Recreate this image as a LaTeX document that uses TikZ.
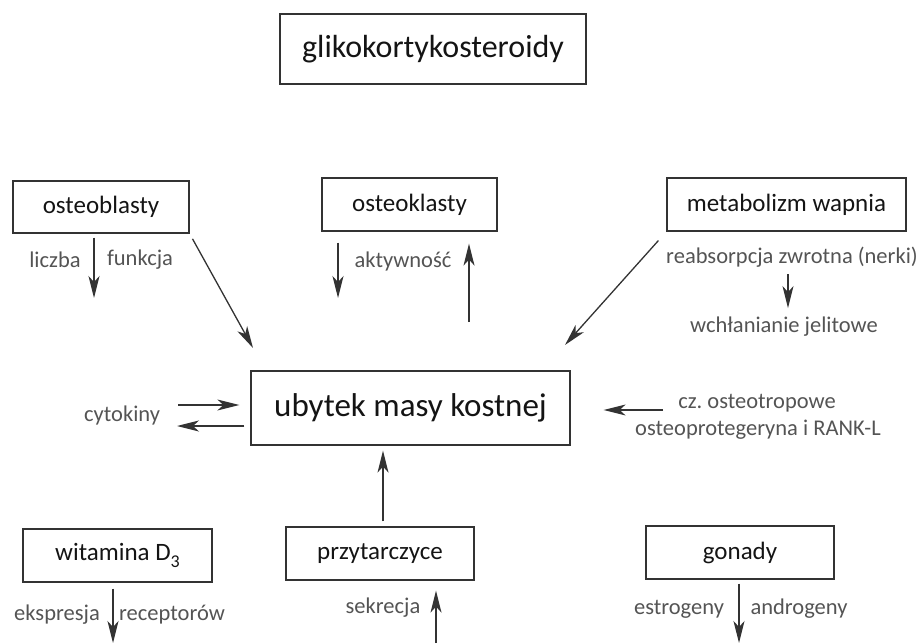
\documentclass[tikz,border=0pt]{standalone}
\usepackage{fontspec}
\setmainfont{Carlito}
\usetikzlibrary{arrows.meta}

\definecolor{linec}{gray}{0.2}
\definecolor{boxc}{gray}{0.08}
\definecolor{labc}{gray}{0.33}

\tikzset{
  box/.style={draw=linec, line width=1.2pt, text=boxc, inner sep=0pt,
    minimum height=53pt, font=\fontsize{25}{30}\selectfont},
  lab/.style={text=labc, inner sep=0pt, font=\fontsize{22.5}{27}\selectfont},
  arr/.style={draw=linec, line width=1.3pt,
    -{Stealth[length=22pt,width=11pt,inset=6pt]}},
}

\begin{document}
\frenchspacing
\begin{tikzpicture}[x=1pt,y=-1pt]
    \useasboundingbox (0,0) rectangle (923,644);

    % boxes
    \node[box, minimum width=306pt, minimum height=70pt,
      font=\fontsize{32}{38}\selectfont] (gkk) at (433,49) {glikokortykosteroidy};
    \node[box, minimum width=176pt, minimum height=52pt] (oblast) at (101,207) {osteoblasty};
    \node[box, minimum width=175pt] (oklast) at (409.5,204.5) {osteoklasty};
    \node[box, minimum width=239pt] (metab) at (786.5,204.5) {metabolizm wapnia};
    \node[box, minimum width=319pt, minimum height=74pt,
      font=\fontsize{33}{40}\selectfont] (ubytek) at (410.5,408) {ubytek masy kostnej};
    \node[box, minimum width=189pt] (witd) at (117.5,555.5)
      {witamina D\raisebox{-0.3em}{\fontsize{18}{18}\selectfont 3}};
    \node[box, minimum width=188pt] (przy) at (380,553.5) {przytarczyce};
    \node[box, minimum width=188pt] (gonady) at (740,552.5) {gonady};

    % labels
    \node[lab] (liczba) at (55,260) {liczba};
    \node[lab] (funkcja) at (140,260) {funkcja};
    \node[lab] (aktyw) at (403,262) {aktywność};
    \node[lab] (reab) at (792,257) {reabsorpcja zwrotna (nerki)};
    \node[lab] (wchl) at (784,327) {wchłanianie jelitowe};
    \node[lab] (cytok) at (122,415) {cytokiny};
    \node[lab] (ostrop) at (757,403) {cz. osteotropowe};
    \node[lab] (osprot) at (758,430) {osteoprotegeryna i RANK-L};
    \node[lab] (sekr) at (383,608) {sekrecja};
    \node[lab] (ekspr) at (57,615) {ekspresja};
    \node[lab] (recep) at (172,615) {receptorów};
    \node[lab] (estro) at (679,609) {estrogeny};
    \node[lab] (andro) at (799,609) {androgeny};

    % free ends
    \coordinate (ob1) at (94,298);
    \coordinate (ob2) at (253,348);
    \coordinate (ok1) at (338,298);
    \coordinate (ok2) at (469,322);
    \coordinate (mw1) at (565,345);
    \coordinate (ra) at (788,0);
    \coordinate (cy1) at (178,405);
    \coordinate (cy2) at (177,426);
    \coordinate (ot) at (663,410);
    \coordinate (pz) at (383,0);
    \coordinate (sk) at (436,643);
    \coordinate (wd) at (113,643);
    \coordinate (gn) at (739,643);

    % arrows
    \draw[arr, shorten <=4pt] (oblast.south -| ob1) -- (ob1);
    \draw[arr, shorten <=6pt] (oblast.south east) -- (ob2);
    \draw[arr, shorten <=11pt] (oklast.south -| ok1) -- (ok1);
    \draw[arr, shorten >=12pt] (ok2) -- (oklast.south -| ok2);
    \draw[arr, shorten <=12pt] (metab.south west) -- (mw1);
    \draw[arr, shorten <=7pt, shorten >=9pt] (reab.south -| ra) -- (wchl.north -| ra);

    \draw[arr, shorten >=11pt] (cy1) -- (cy1 -| ubytek.west);
    \draw[arr, shorten <=6pt] (cy2 -| ubytek.west) -- (cy2);
    \draw[arr, shorten >=33pt] (ot) -- (ot -| ubytek.east);
    \draw[arr, shorten <=5pt, shorten >=5pt] (przy.north -| pz) -- (ubytek.south -| pz);

    \draw[arr, shorten >=10pt] (sk) -- (przy.south -| sk);
    \draw[arr, shorten <=6pt] (witd.south -| wd) -- (wd);
    \draw[arr, shorten <=4pt] (gonady.south -| gn) -- (gn);
\end{tikzpicture}
\end{document}
